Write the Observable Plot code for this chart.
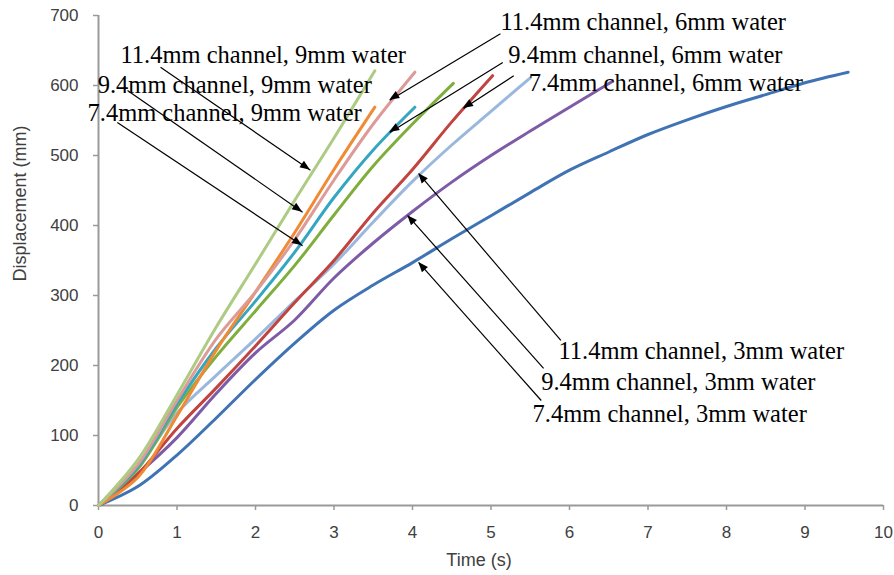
<!DOCTYPE html>
<html>
<head>
<meta charset="utf-8">
<script src="https://cdn.jsdelivr.net/npm/d3@7"></script>
<script src="https://cdn.jsdelivr.net/npm/@observablehq/plot@0.6"></script>
<style>body{margin:0;background:#fff;} #chart{width:894px;height:575px;}</style>
</head>
<body>
<div id="chart"></div>
<script>
// ---- series data (time in s, displacement in mm) ----
const seriesNames = [
  "7.4mm channel, 3mm water", "9.4mm channel, 3mm water", "11.4mm channel, 3mm water",
  "7.4mm channel, 6mm water", "9.4mm channel, 6mm water", "11.4mm channel, 6mm water",
  "7.4mm channel, 9mm water", "9.4mm channel, 9mm water", "11.4mm channel, 9mm water"
];
const seriesColors = ["#3F73B3", "#7E5BA6", "#9AB8DD", "#C0443F", "#7FAE3E", "#DD9B98", "#35A6C2", "#F08A34", "#ADCB82"];

const time_74_3 = [0,0.5,1,1.5,2,2.5,3,3.5,4,4.5,5,5.5,6,6.5,7,7.5,8,8.5,9,9.55];
const disp_74_3 = [0,27,72,125,180,232,279,315,347,381,414,447,479,505,530,551,570,587,604,619];
const time_94_3 = [0,0.5,1,1.5,2,2.5,3,3.5,4,4.5,5,5.5,6,6.55];
const disp_94_3 = [0,45,97,160,218,265,325,375,420,462,500,535,569,606];
const time_114_3 = [0,0.5,1,1.5,2,2.5,3,3.5,4,4.5,5,5.5];
const disp_114_3 = [0,55,132,186,238,292,345,405,463,515,563,611];
const time_74_6 = [0,0.5,1,1.5,2,2.5,3,3.5,4,4.5,5.02];
const disp_74_6 = [0,45,110,168,228,290,350,418,480,548,614];
const time_94_6 = [0,0.5,1,1.5,2,2.5,3,3.5,4,4.52];
const disp_94_6 = [0,52,140,213,278,343,415,485,545,603];
const time_114_6 = [0,0.5,1,1.5,2,2.5,3,3.5,4.03];
const disp_114_6 = [0,58,150,238,305,380,465,545,619];
const time_74_9 = [0,0.5,1,1.5,2,2.5,3,3.5,4.03];
const disp_74_9 = [0,55,145,225,292,362,440,508,569];
const time_94_9 = [0,0.5,1,1.5,2,2.5,3,3.52];
const disp_94_9 = [0,40,128,222,305,390,480,569];
const time_114_9 = [0,0.5,1,1.5,2,2.5,3,3.52];
const disp_114_9 = [0,65,158,255,345,436,525,621];

const xTicks = [0,1,2,3,4,5,6,7,8,9,10];
const yTicks = [0,100,200,300,400,500,600,700];

// ---- annotation data (in data units) ----
const labelTexts = [
  "11.4mm channel, 9mm water", "9.4mm channel, 9mm water", "7.4mm channel, 9mm water",
  "11.4mm channel, 6mm water", "9.4mm channel, 6mm water", "7.4mm channel, 6mm water",
  "11.4mm channel, 3mm water", "9.4mm channel, 3mm water", "7.4mm channel, 3mm water"
];
const labelTime = [0.28, -0.01, -0.14, 5.12, 5.22, 5.48, 5.86, 5.64, 5.53];
const labelDisp = [643, 600, 560, 690, 643, 604, 220, 176, 131];

const arrowTime1 = [0.79, 0.37, 0.24, 5.12, 5.15, 5.29, 5.89, 5.67, 5.64];
const arrowDisp1 = [626, 593, 547, 674, 633, 614, 236, 196, 150];
const arrowTime2 = [2.70, 2.60, 2.60, 3.71, 3.71, 4.65, 4.08, 3.94, 4.08];
const arrowDisp2 = [479, 419, 371, 579, 533, 567, 474, 414, 347];

// ---- build table ----
const seriesTimes = [time_74_3, time_94_3, time_114_3, time_74_6, time_94_6, time_114_6, time_74_9, time_94_9, time_114_9];
const seriesDisps = [disp_74_3, disp_94_3, disp_114_3, disp_74_6, disp_94_6, disp_114_6, disp_74_9, disp_94_9, disp_114_9];
const drawOrder = [0, 1, 2, 3, 4, 6, 7, 5, 8];
const rows = [];
drawOrder.forEach(i => seriesTimes[i].forEach((t, j) => rows.push({series: seriesNames[i], t, d: seriesDisps[i][j]})));

const arrows = arrowTime1.map((t, i) => ({x1: t, y1: arrowDisp1[i], x2: arrowTime2[i], y2: arrowDisp2[i]}));
const labels = labelTexts.map((s, i) => ({text: s, t: labelTime[i], d: labelDisp[i]}));

// filled arrow heads drawn through the plot's scales
function arrowHeads(index, scales) {
  const g = d3.create("svg:g");
  for (const a of arrows) {
    const x1 = scales.x(a.x1), y1 = scales.y(a.y1), x2 = scales.x(a.x2), y2 = scales.y(a.y2);
    const dx = x2 - x1, dy = y2 - y1, len = Math.hypot(dx, dy);
    const ux = dx / len, uy = dy / len, L = 10, W = 4;
    const bx = x2 - ux * L, by = y2 - uy * L;
    g.append("polygon")
      .attr("points", `${x2},${y2} ${bx - uy * W},${by + ux * W} ${bx + uy * W},${by - ux * W}`)
      .attr("fill", "#000");
  }
  return g.node();
}

const chart = Plot.plot({
  width: 894,
  height: 575,
  marginLeft: 98,
  marginRight: 11,
  marginTop: 15,
  marginBottom: 70,
  style: {fontFamily: "'Liberation Sans', Arial, sans-serif", fontSize: "17px", color: "#404040", background: "#fff", overflow: "visible"},
  x: {domain: [0, 10]},
  y: {domain: [0, 700]},
  color: {domain: seriesNames, range: seriesColors},
  marks: [
    Plot.axisX({ticks: xTicks, tickSize: 5, tickPadding: 15, stroke: "#9a9a9a", strokeWidth: 1.5, label: null}),
    Plot.axisY({ticks: yTicks, tickSize: 5, tickPadding: 15, stroke: "#9a9a9a", strokeWidth: 1.5, label: null}),
    Plot.ruleY([0], {stroke: "#9a9a9a", strokeWidth: 2}),
    Plot.ruleX([0], {stroke: "#9a9a9a", strokeWidth: 2}),
    Plot.line(rows, {x: "t", y: "d", z: "series", stroke: "series", strokeWidth: 3, curve: "catmull-rom"}),
    Plot.link(arrows, {x1: "x1", y1: "y1", x2: "x2", y2: "y2", stroke: "#000", strokeWidth: 1.2}),
    arrowHeads,
    Plot.text(labels, {x: "t", y: "d", text: "text", textAnchor: "start", fontFamily: "'Liberation Serif', 'Times New Roman', serif", fontSize: 24.5, fill: "#000"}),
    Plot.text(["Displacement (mm)"], {frameAnchor: "left", dx: -78, dy: 21, rotate: -90, fontSize: 18, fill: "#404040"}),
    Plot.text(["Time (s)"], {frameAnchor: "bottom", dx: -12, dy: 60, fontSize: 18, fill: "#404040"})
  ]
});
document.getElementById("chart").appendChild(chart);
</script>
</body>
</html>
